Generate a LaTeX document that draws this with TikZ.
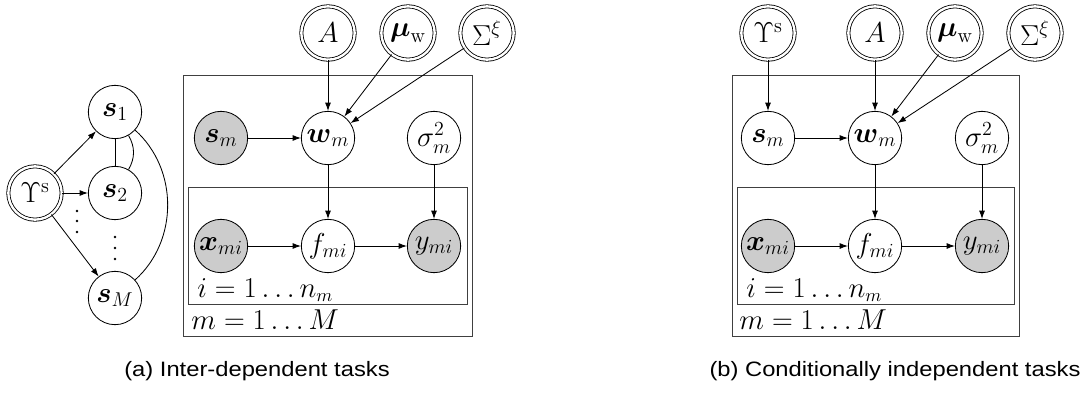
\documentclass[tikz,border=0pt]{standalone}
\usepackage{amsmath,amssymb}
\usepackage{fontspec}
\newfontfamily\capfont[FakeStretch=1.14]{Liberation Sans}
\usepackage{tikz}
\usetikzlibrary{arrows.meta,positioning}

\begin{document}
\begin{tikzpicture}[
    x=0.6pt, y=-0.6pt,
    >={Latex[length=5pt,width=3.6pt]},
    every node/.style={font=\fontsize{16}{19}\selectfont},
    var/.style={circle, draw, line width=0.5pt, minimum size=32pt, inner sep=0pt, font=\fontsize{17.5}{20}\selectfont},
    obs/.style={var, fill=black!20},
    hyper/.style={var, double, double distance=1.4pt},
    plate/.style={draw=black!75, line width=0.6pt},
    arr/.style={->, line width=0.5pt},
    undir/.style={line width=0.5pt},
    platelabel/.style={anchor=west, inner sep=0pt},
    subcap/.style={font=\capfont\fontsize{12.5}{15}\selectfont}
]
\useasboundingbox (0,0) rectangle (1082,394);

% (a) Inter-dependent tasks: task cluster
\node[hyper] (upsa) at (35,193) {$\Upsilon^{\mathrm{s}}$};
\node[var] (s1) at (115,112) {$\boldsymbol{s}_1$};
\node[var] (s2) at (115,193) {$\boldsymbol{s}_2$};
\node[var] (sM) at (115,298) {$\boldsymbol{s}_M$};

\draw[arr] (upsa) -- (s1);
\draw[arr] (upsa) -- (s2);
\draw[arr] (upsa) -- (sM);
\draw[undir] (s1) -- (s2);
\draw[undir] (s1) to[bend left=30] (s2);
\draw[undir] (s1) to[bend left=48] (sM);

\foreach \y in {211,221,232} \fill (77,\y) circle (0.8pt);
\foreach \y in {237,248,259} \fill (115,\y) circle (0.8pt);

% (a) plates
\draw[plate] (183,75) rectangle (472,336);
\draw[plate] (188,187) rectangle (467,304);

% (a) hyperparameters
\node[hyper] (Aa) at (328,33) {$A$};
\node[hyper] (mua) at (408,33) {$\boldsymbol{\mu}_{\mathrm{w}}$};
\node[hyper] (sigxa) at (487,33) {$\Sigma^{\xi}$};

% (a) task level
\node[obs] (sma) at (221,138) {$\boldsymbol{s}_m$};
\node[var] (wma) at (328,138) {$\boldsymbol{w}_m$};
\node[var] (sigma) at (434,138) {$\sigma_m^2$};

% (a) data level
\node[obs] (xa) at (221,246) {$\boldsymbol{x}_{mi}$};
\node[var] (fa) at (328,246) {$f_{mi}$};
\node[obs] (ya) at (434,246) {$y_{mi}$};

\node[platelabel] (ia) at (197,290) {$i=1\ldots n_m$};
\node[platelabel] (ma) at (191,320) {$m=1\ldots M$};

\draw[arr] (Aa) -- (wma);
\draw[arr] (mua) -- (wma);
\draw[arr] (sigxa) -- (wma);
\draw[arr] (sma) -- (wma);
\draw[arr] (wma) -- (fa);
\draw[arr] (sigma) -- (ya);
\draw[arr] (xa) -- (fa);
\draw[arr] (fa) -- (ya);

\node[subcap] (capa) at (257,371) {(a) Inter-dependent tasks};

% (b) Conditionally independent tasks
\draw[plate] (732,75) rectangle (1019,336);
\draw[plate] (737,187) rectangle (1014,304);

\node[hyper] (upsb) at (768,33) {$\Upsilon^{\mathrm{s}}$};
\node[hyper] (Ab) at (875,33) {$A$};
\node[hyper] (mub) at (955,33) {$\boldsymbol{\mu}_{\mathrm{w}}$};
\node[hyper] (sigxb) at (1035,33) {$\Sigma^{\xi}$};

\node[var] (smb) at (768,138) {$\boldsymbol{s}_m$};
\node[var] (wmb) at (875,138) {$\boldsymbol{w}_m$};
\node[var] (sigmb) at (982,138) {$\sigma_m^2$};

\node[obs] (xb) at (768,246) {$\boldsymbol{x}_{mi}$};
\node[var] (fb) at (875,246) {$f_{mi}$};
\node[obs] (yb) at (982,246) {$y_{mi}$};

\node[platelabel] (ib) at (746,290) {$i=1\ldots n_m$};
\node[platelabel] (mb) at (739,320) {$m=1\ldots M$};

\draw[arr] (upsb) -- (smb);
\draw[arr] (Ab) -- (wmb);
\draw[arr] (mub) -- (wmb);
\draw[arr] (sigxb) -- (wmb);
\draw[arr] (smb) -- (wmb);
\draw[arr] (wmb) -- (fb);
\draw[arr] (sigmb) -- (yb);
\draw[arr] (xb) -- (fb);
\draw[arr] (fb) -- (yb);

\node[subcap] (capb) at (895,371) {(b) Conditionally independent tasks};

\end{tikzpicture}
\end{document}
